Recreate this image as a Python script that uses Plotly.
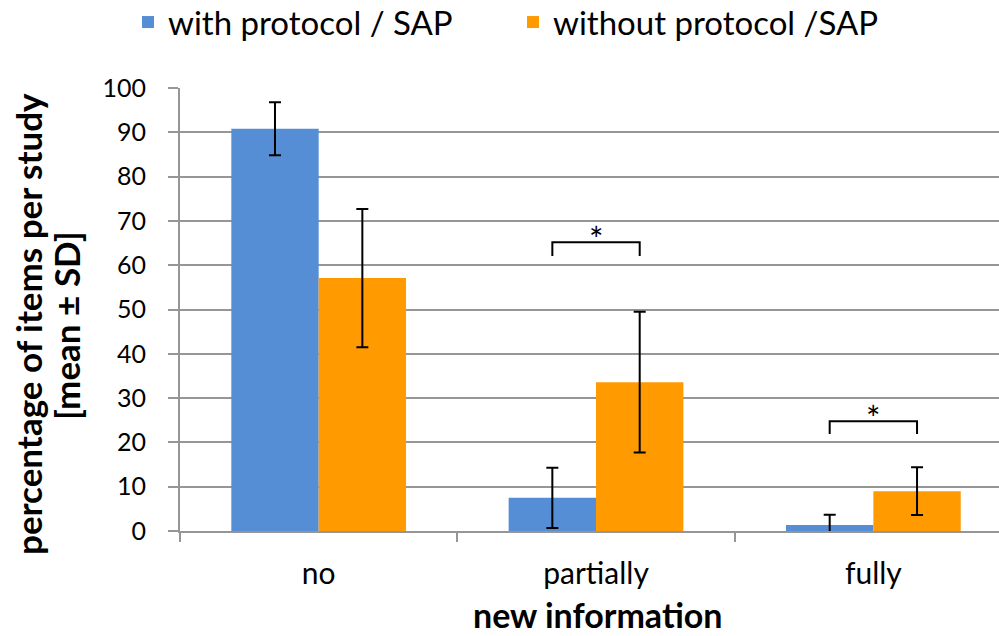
import plotly.graph_objects as go

categories = ["no", "partially", "fully"]
with_mean = [90.8, 7.5, 1.35]
with_sd = [6.0, 6.8, 2.3]
without_mean = [57.1, 33.6, 9.0]
without_sd = [15.6, 15.9, 5.4]
series_names = ["with protocol / SAP", "without protocol /SAP"]
y_ticks = list(range(0, 101, 10))
# significance brackets: (category index, bracket level, tick bottom)
sig_brackets = [(1, 65.2, 62.1), (2, 24.8, 21.9)]

FONT = "Lato"
BLUE = "#558ED5"
ORANGE = "#FF9A00"
GRID = "#969696"

fig = go.Figure()
fig.add_trace(go.Bar(
    x=categories, y=with_mean, name=series_names[0],
    marker=dict(color=BLUE, line=dict(width=0)),
    error_y=dict(type="data", array=with_sd, visible=True,
                 color="black", thickness=2, width=6),
))
fig.add_trace(go.Bar(
    x=categories, y=without_mean, name=series_names[1],
    marker=dict(color=ORANGE, line=dict(width=0)),
    error_y=dict(type="data", array=without_sd, visible=True,
                 color="black", thickness=2, width=6),
))

off = 0.1575
for idx, top, bottom in sig_brackets:
    x0, x1 = idx - off, idx + off
    fig.add_shape(type="path",
                  path=f"M {x0} {bottom} L {x0} {top} L {x1} {top} L {x1} {bottom}",
                  xref="x", yref="y", line=dict(color="black", width=2))
    fig.add_annotation(x=idx, y=top, xref="x", yref="y", text="*",
                       showarrow=False, yanchor="bottom", yshift=-19,
                       font=dict(family=FONT, size=34, color="black"))

# axis titles as annotations for exact placement
fig.add_annotation(text="<b>percentage of items per study</b>",
                   xref="paper", yref="paper", x=(28 - 180) / 819, y=(531 - 324) / 443,
                   xanchor="center", yanchor="middle", textangle=-90,
                   showarrow=False, font=dict(family=FONT, size=35, color="black"))
fig.add_annotation(text="<b>[mean ± SD]</b>",
                   xref="paper", yref="paper", x=(66 - 180) / 819, y=(531 - 326) / 443,
                   xanchor="center", yanchor="middle", textangle=-90,
                   showarrow=False, font=dict(family=FONT, size=35, color="black"))
fig.add_annotation(text="<b>new information</b>",
                   xref="paper", yref="paper", x=(597 - 180) / 819, y=(531 - 614) / 443,
                   xanchor="center", yanchor="middle",
                   showarrow=False, font=dict(family=FONT, size=34, color="black"))

fig.update_layout(
    width=999, height=636,
    margin=dict(l=180, r=0, t=88, b=105, autoexpand=False),
    paper_bgcolor="white", plot_bgcolor="white",
    barmode="group", bargap=0.37, bargroupgap=0,
    font=dict(family=FONT, color="black"),
    showlegend=True,
    legend=dict(orientation="h", x=(128 - 180) / 819, xanchor="left", y=1.212, yanchor="top",
                font=dict(family=FONT, size=33), itemwidth=30,
                entrywidth=340, entrywidthmode="pixels",
                traceorder="normal"),
    xaxis=dict(
        range=[-0.5, 2.453],
        showline=True, linecolor=GRID, linewidth=2,
        ticks="outside", tickson="boundaries", ticklen=9, tickcolor=GRID, tickwidth=2,
        tickfont=dict(family=FONT, size=30), ticklabelstandoff=15,
        showgrid=False,
    ),
    yaxis=dict(
        range=[0, 100], tickvals=y_ticks,
        showline=True, linecolor=GRID, linewidth=2,
        ticks="outside", ticklen=10, tickcolor=GRID, tickwidth=2,
        showgrid=True, gridcolor=GRID, gridwidth=2,
        tickfont=dict(family=FONT, size=25), ticklabelstandoff=17,
        zeroline=False,
    ),
)

fig.write_html("out.html", config={"displayModeBar": False},
               post_script="document.body.style.margin='0';document.documentElement.style.overflow='hidden';")
